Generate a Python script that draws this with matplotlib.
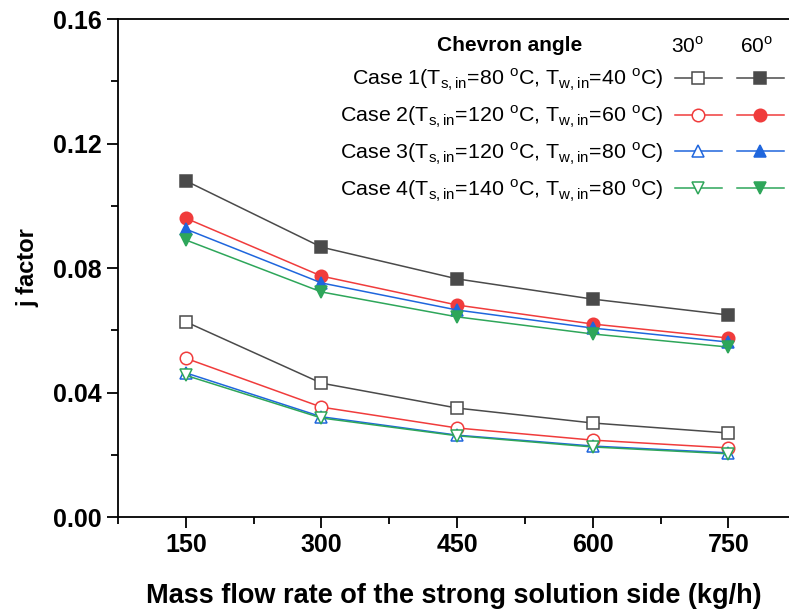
import matplotlib
matplotlib.use("Agg")
import matplotlib.pyplot as plt
from matplotlib.ticker import MultipleLocator
from matplotlib.legend_handler import HandlerTuple

plt.rcParams['font.family'] = ['Liberation Sans', 'DejaVu Sans']
plt.rcParams['mathtext.fontset'] = 'custom'
plt.rcParams['mathtext.rm'] = 'Liberation Sans'

# data
flow = [150, 300, 450, 600, 750]
case_labels = [
    r'Case 1(T$_{\mathregular{s,in}}$=80 $^{\mathregular{o}}$C, T$_{\mathregular{w,in}}$=40 $^{\mathregular{o}}$C)',
    r'Case 2(T$_{\mathregular{s,in}}$=120 $^{\mathregular{o}}$C, T$_{\mathregular{w,in}}$=60 $^{\mathregular{o}}$C)',
    r'Case 3(T$_{\mathregular{s,in}}$=120 $^{\mathregular{o}}$C, T$_{\mathregular{w,in}}$=80 $^{\mathregular{o}}$C)',
    r'Case 4(T$_{\mathregular{s,in}}$=140 $^{\mathregular{o}}$C, T$_{\mathregular{w,in}}$=80 $^{\mathregular{o}}$C)',
]
j30 = [
    [0.0627, 0.0430, 0.0350, 0.0302, 0.0270],
    [0.0510, 0.0353, 0.0286, 0.0247, 0.0222],
    [0.0463, 0.0322, 0.0263, 0.0228, 0.0206],
    [0.0455, 0.0318, 0.0261, 0.0225, 0.0203],
]
j60 = [
    [0.1080, 0.0867, 0.0765, 0.0700, 0.0649],
    [0.0960, 0.0774, 0.0681, 0.0620, 0.0575],
    [0.0925, 0.0752, 0.0665, 0.0607, 0.0562],
    [0.0890, 0.0723, 0.0643, 0.0588, 0.0546],
]
colors = ['#4a4a4a', '#f03c3c', '#1f66dd', '#2ea65a']
markers = ['s', 'o', '^', 'v']

fig = plt.figure(figsize=(7.89, 6.13), dpi=100)
ax = fig.add_axes([0.1496, 0.1566, 0.8504, 0.8124])

handles = []
for i in range(4):
    l30, = ax.plot(flow, j30[i], color=colors[i], lw=1.1, marker=markers[i],
                   ms=9, mfc='white', mec=colors[i], mew=1.1)
    l60, = ax.plot(flow, j60[i], color=colors[i], lw=1.1, marker=markers[i],
                   ms=9, mfc=colors[i], mec=colors[i], mew=1.1)
    handles.append((l30, l60))

ax.set_xlim(75, 817)
ax.set_ylim(0, 0.16)
ax.set_xticks(flow)
ax.xaxis.set_minor_locator(MultipleLocator(75))
ax.set_yticks([0, 0.04, 0.08, 0.12, 0.16])
ax.yaxis.set_minor_locator(MultipleLocator(0.02))
ax.set_yticklabels(['0.00', '0.04', '0.08', '0.12', '0.16'])
ax.spines['right'].set_visible(False)
for s in ['left', 'bottom', 'top']:
    ax.spines[s].set_linewidth(1.3)
ax.tick_params(which='major', direction='out', length=8, width=1.3)
ax.tick_params(which='minor', direction='out', length=5, width=1.3)
for t in ax.get_yticklabels():
    t.set_fontweight('bold')
    t.set_fontsize(18)
for t in ax.get_xticklabels():
    t.set_fontweight('bold')
    t.set_fontsize(18)

ax.set_xlabel('Mass flow rate of the strong solution side (kg/h)', fontsize=19.5,
              fontweight='bold', labelpad=19)
ax.set_ylabel('j factor', fontsize=17, fontweight='bold', labelpad=10)

leg = ax.legend(handles, case_labels, markerfirst=False,
                handler_map={tuple: HandlerTuple(ndivide=None, pad=0.7)},
                loc='upper right', bbox_to_anchor=(0.9925, 0.904), frameon=False,
                fontsize=15.4, handlelength=5.1, handletextpad=0.55,
                labelspacing=0.5, borderaxespad=0.0, borderpad=0.0)

ax.text(0.584, 0.946, 'Chevron angle', transform=ax.transAxes, ha='center',
        va='center', fontsize=15, fontweight='bold')
ax.text(0.849, 0.946, r'30$^{\mathregular{o}}$', transform=ax.transAxes,
        ha='center', va='center', fontsize=15)
ax.text(0.951, 0.946, r'60$^{\mathregular{o}}$', transform=ax.transAxes,
        ha='center', va='center', fontsize=15)

fig.savefig('out.png', dpi=100)
